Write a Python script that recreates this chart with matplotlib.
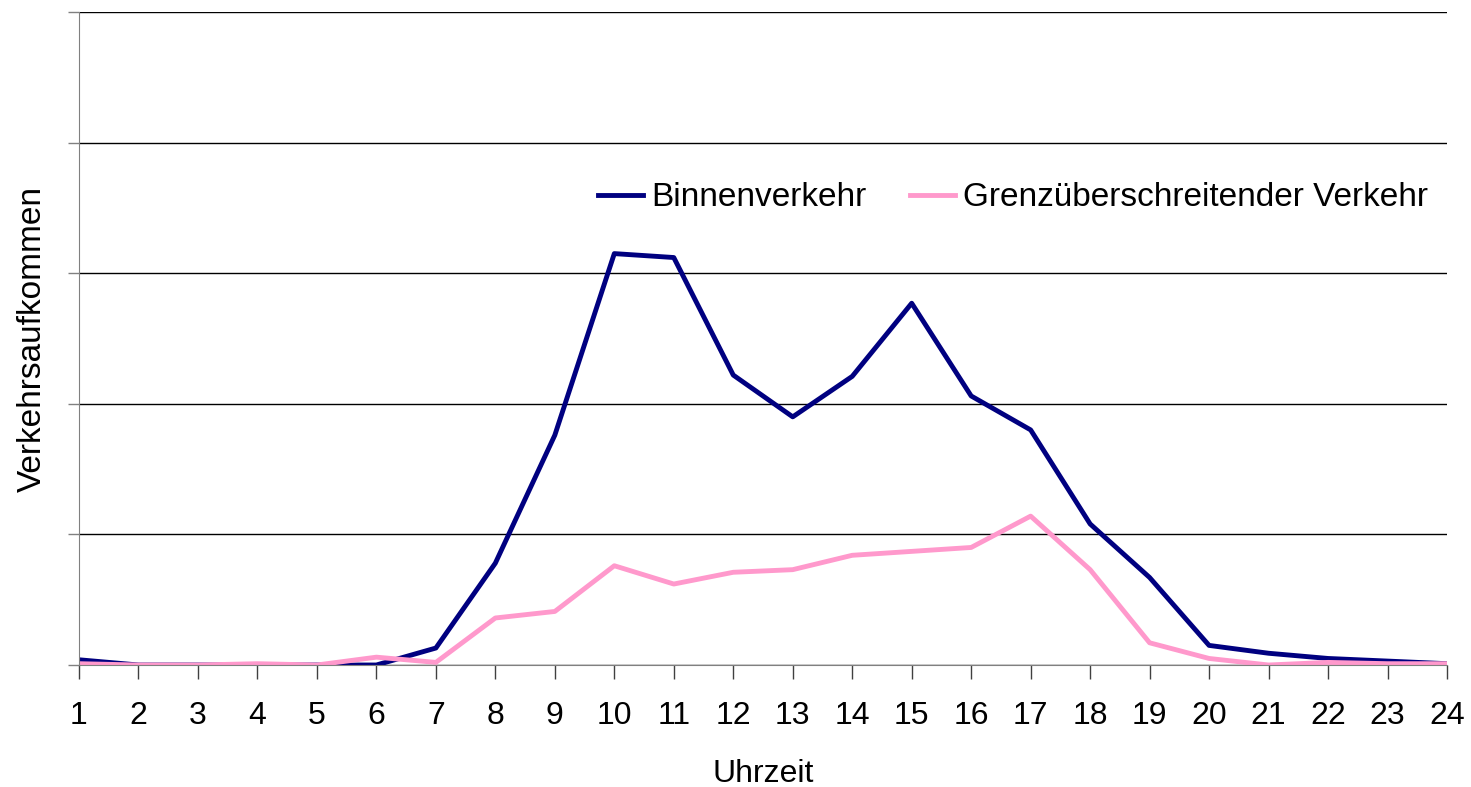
import matplotlib
matplotlib.use("Agg")
import matplotlib.pyplot as plt

plt.rcParams['font.family'] = ['Liberation Sans', 'DejaVu Sans']

# ===== DATA (units = grid steps) =====
stunden = list(range(1, 25))
binnen = [0.04, 0.0, 0.0, 0.0, 0.0, 0.0, 0.13, 0.78, 1.76, 3.15, 3.12, 2.22,
          1.90, 2.21, 2.77, 2.06, 1.80, 1.08, 0.67, 0.15, 0.09, 0.05, 0.03, 0.01]
grenz = [0.01, 0.0, 0.0, 0.01, 0.0, 0.06, 0.02, 0.36, 0.41, 0.76, 0.62, 0.71,
         0.73, 0.84, 0.87, 0.90, 1.14, 0.73, 0.17, 0.05, 0.0, 0.02, 0.01, 0.01]
y_gitter = [0, 1, 2, 3, 4, 5]

FS = 23

# ===== FIGURE =====
fig = plt.figure(figsize=(14.71, 7.87), dpi=100)
ax = fig.add_axes([79 / 1471, 122 / 787, (1447 - 79) / 1471, (665 - 12) / 787])

ax.plot(stunden, binnen, color='#000080', linewidth=3.5, label='Binnenverkehr')
ax.plot(stunden, grenz, color='#FF99CC', linewidth=3.5,
        label='Grenzüberschreitender Verkehr')

ax.set_xlim(1, 24)
ax.set_ylim(0, 5)
ax.set_xticks(stunden)
ax.set_yticks(y_gitter)
ax.set_yticklabels([])
ax.tick_params(axis='x', direction='out', length=10, width=1, color='#404040',
               labelsize=FS, pad=16)
ax.tick_params(axis='y', direction='out', length=8, width=1, color='#808080')
ax.yaxis.grid(True, color='black', linewidth=1)
ax.set_axisbelow(True)

for s in ['top', 'right']:
    ax.spines[s].set_visible(False)
ax.spines['left'].set_color('#808080')
ax.spines['bottom'].set_color('#808080')

ax.set_xlabel('Uhrzeit', fontsize=FS, labelpad=20)
ax.set_ylabel('Verkehrsaufkommen', fontsize=24, va='center')
ax.yaxis.set_label_coords(-0.034, 0.5)

fig.legend(loc='center left', bbox_to_anchor=(568 / 1471, 589 / 787), ncol=2,
           frameon=False, fontsize=24, handlelength=1.35, handletextpad=0.25,
           columnspacing=1.3)

fig.savefig('out.png', dpi=100)
